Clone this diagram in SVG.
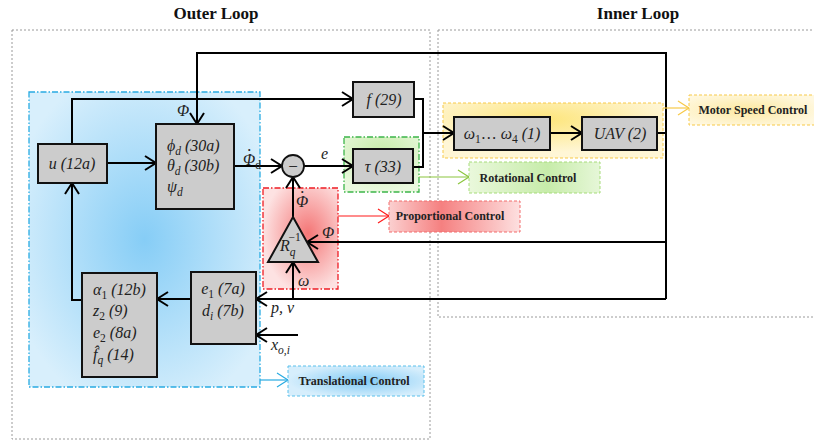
<svg xmlns="http://www.w3.org/2000/svg" width="814" height="443" viewBox="0 0 814 443">
<defs>
<radialGradient id="gBlue" cx="0.5" cy="0.5" r="0.6"><stop offset="0" stop-color="#86cdf6"/><stop offset="1" stop-color="#d8effc"/></radialGradient>
<radialGradient id="gRed" cx="0.6" cy="0.45" r="0.6"><stop offset="0" stop-color="#f47676"/><stop offset="1" stop-color="#fde2e2"/></radialGradient>
<radialGradient id="gGreen" cx="0.5" cy="0.3" r="0.7"><stop offset="0" stop-color="#c6eca8"/><stop offset="1" stop-color="#eaf8df"/></radialGradient>
<radialGradient id="gYellow" cx="0.45" cy="0.3" r="0.6"><stop offset="0" stop-color="#fde57a"/><stop offset="1" stop-color="#fff6d6"/></radialGradient>
<radialGradient id="lYellow" cx="0.45" cy="0.5" r="0.6"><stop offset="0" stop-color="#fde9a0"/><stop offset="1" stop-color="#fff8e0"/></radialGradient>
<linearGradient id="lGreen" x1="0" x2="1"><stop offset="0" stop-color="#eaf8dc"/><stop offset="0.6" stop-color="#c7ecaa"/><stop offset="1" stop-color="#e6f7d8"/></linearGradient>
<linearGradient id="lRed" x1="0" x2="1"><stop offset="0" stop-color="#fbd0d0"/><stop offset="0.4" stop-color="#f58080"/><stop offset="1" stop-color="#fde0e0"/></linearGradient>
<radialGradient id="lBlue" cx="0.55" cy="0.5" r="0.55"><stop offset="0" stop-color="#7fcaf5"/><stop offset="1" stop-color="#d6eefc"/></radialGradient>
<marker id="aK" markerUnits="userSpaceOnUse" markerWidth="14" markerHeight="16" refX="12" refY="8" orient="auto"><path d="M1,1 L12,8 L1,15" fill="none" stroke="#000" stroke-width="2"/></marker>
<marker id="aB" markerUnits="userSpaceOnUse" markerWidth="14" markerHeight="16" refX="12" refY="8" orient="auto"><path d="M1,1 L12,8 L1,15" fill="none" stroke="#29abe2" stroke-width="1.2"/></marker>
<marker id="aG" markerUnits="userSpaceOnUse" markerWidth="14" markerHeight="16" refX="12" refY="8" orient="auto"><path d="M1,1 L12,8 L1,15" fill="none" stroke="#8cc63f" stroke-width="1.2"/></marker>
<marker id="aR" markerUnits="userSpaceOnUse" markerWidth="14" markerHeight="16" refX="12" refY="8" orient="auto"><path d="M1,1 L12,8 L1,15" fill="none" stroke="#ff1a1a" stroke-width="1.2"/></marker>
<marker id="aY" markerUnits="userSpaceOnUse" markerWidth="14" markerHeight="16" refX="12" refY="8" orient="auto"><path d="M1,1 L12,8 L1,15" fill="none" stroke="#f7c948" stroke-width="1.2"/></marker>
</defs>
<style>
.loop{fill:none;stroke:#9a9a9a;stroke-width:1;stroke-dasharray:2 2}
.title{font-family:"Liberation Serif",serif;font-weight:bold;font-size:17px;fill:#111;text-anchor:middle}
.blk{fill:#cccccc;stroke:#111;stroke-width:2}
.m{font-family:"Liberation Serif","DejaVu Serif",serif;font-style:italic;font-size:16px;fill:#222}
.mc{text-anchor:middle}
.lbl{font-family:"Liberation Serif",serif;font-weight:bold;font-size:12px;fill:#222;text-anchor:middle}
.w{fill:none;stroke:#000;stroke-width:2}
.sub{font-size:11.5px}
.up{font-style:normal}
</style>
<rect width="814" height="443" fill="#fff"/>
<g id="outer-loop">
<rect class="loop" x="12" y="30" width="418" height="409"/>
<text class="title" x="216" y="19">Outer Loop</text>
</g>
<g id="inner-loop">
<rect class="loop" x="438" y="30" width="380" height="287"/>
<text class="title" x="638" y="19">Inner Loop</text>
</g>
<g id="translational-region">
<rect x="29" y="92" width="231" height="295" fill="url(#gBlue)" stroke="#29abe2" stroke-width="1.3" stroke-dasharray="6 2 1.5 2"/>
</g>
<g id="rotational-region">
<rect x="344" y="137" width="75" height="55" fill="url(#gGreen)" stroke="#3db54a" stroke-width="1.3" stroke-dasharray="6 2 1.5 2"/>
</g>
<g id="proportional-region">
<rect x="263" y="188" width="75" height="101" fill="url(#gRed)" stroke="#ee1c24" stroke-width="1.3" stroke-dasharray="6 2 1.5 2"/>
</g>
<g id="motor-region">
<rect x="443" y="103" width="220" height="55" fill="url(#gYellow)" stroke="#f7c948" stroke-width="1" stroke-dasharray="3 2"/>
</g>
<g id="connectors">
<path class="w" d="M666,299 V53 H197 V124" marker-end="url(#aK)"/>
<path class="w" d="M657,133 H666"/>
<path class="w" d="M666,242 H307" marker-end="url(#aK)"/>
<path class="w" d="M666,299 H256" marker-end="url(#aK)"/>
<path class="w" d="M293,299 V262" marker-end="url(#aK)"/>
<path class="w" d="M72,144 V99 H353" marker-end="url(#aK)"/>
<path class="w" d="M107,163 H156" marker-end="url(#aK)"/>
<path class="w" d="M234,166 H282" marker-end="url(#aK)"/>
<path class="w" d="M304,166 H353" marker-end="url(#aK)"/>
<path class="w" d="M293,217 V177" marker-end="url(#aK)"/>
<path class="w" d="M414,99 H423 V167 H413"/>
<path class="w" d="M423,133 H454" marker-end="url(#aK)"/>
<path class="w" d="M550,133 H582" marker-end="url(#aK)"/>
<path class="w" d="M191,299 H157" marker-end="url(#aK)"/>
<path class="w" d="M82,300 H72 V183" marker-end="url(#aK)"/>
<path class="w" d="M298,335 H256" marker-end="url(#aK)"/>
<path d="M663,108 H689" fill="none" stroke="#f7c948" stroke-width="1.2" marker-end="url(#aY)"/>
<path d="M419,177 H469" fill="none" stroke="#8cc63f" stroke-width="1.2" marker-end="url(#aG)"/>
<path d="M338,216 H389" fill="none" stroke="#ff1a1a" stroke-width="1.2" marker-end="url(#aR)"/>
<path d="M260,380 H288" fill="none" stroke="#29abe2" stroke-width="1.2" marker-end="url(#aB)"/>
</g>
<g id="signal-labels" class="m">
<text x="177" y="116">Φ</text>
<text x="243" y="165">Φ<tspan class="up" dx="-8" dy="-14">.</tspan><tspan class="sub up" dx="4" dy="18">d</tspan></text>
<text x="296" y="207">Φ<tspan class="up" dx="-8" dy="-14">.</tspan></text>
<text x="321" y="159">e</text>
<text x="322" y="238">Φ</text>
<text x="298" y="286">ω</text>
<text x="271" y="313">p, v</text>
<text x="271" y="350">x<tspan class="sub" dy="4">o,i</tspan></text>
</g>
<g id="node-u"><rect class="blk" x="38" y="144" width="69" height="39"/><text class="m mc" x="72" y="169">u (12a)</text></g>
<g id="node-attitude"><rect class="blk" x="156" y="124" width="78" height="85"/>
<text class="m" x="167" y="151">ϕ<tspan class="sub" dy="4">d</tspan><tspan dy="-4"> (30a)</tspan></text>
<text class="m" x="167" y="171">θ<tspan class="sub" dy="4">d</tspan><tspan dy="-4"> (30b)</tspan></text>
<text class="m" x="167" y="192">ψ<tspan class="sub" dy="4">d</tspan></text>
</g>
<g id="node-f"><rect class="blk" x="353" y="82" width="61" height="35"/><text class="m mc" x="384" y="105">f  (29)</text></g>
<g id="node-tau"><rect class="blk" x="353" y="149" width="60" height="34"/><text class="m mc" x="383" y="172">τ (33)</text></g>
<g id="node-sum"><circle cx="293" cy="166" r="11" fill="#cccccc" stroke="#111" stroke-width="1.8"/><text x="293" y="171.5" text-anchor="middle" style="font-family:'Liberation Serif',serif;font-size:17px">−</text></g>
<g id="node-rq"><polygon points="293,217 318,262 268,262" fill="#cccccc" stroke="#111" stroke-width="2"/>
<text class="m" x="280" y="251">R<tspan class="sub" dy="5">q</tspan><tspan class="sub up" dx="-7" dy="-15">−1</tspan></text></g>
<g id="node-motors"><rect class="blk" x="454" y="117" width="96" height="33"/><text class="m mc" x="502" y="139">ω<tspan class="sub up" dy="4">1</tspan><tspan dy="-4" class="up">… </tspan>ω<tspan class="sub up" dy="4">4</tspan><tspan dy="-4"> (1)</tspan></text></g>
<g id="node-uav"><rect class="blk" x="582" y="117" width="75" height="33"/><text class="m mc" x="620" y="139">UAV (2)</text></g>
<g id="node-e1"><rect class="blk" x="191" y="272" width="65" height="72"/>
<text class="m mc" x="223" y="294">e<tspan class="sub up" dy="4">1</tspan><tspan dy="-4"> (7a)</tspan></text>
<text class="m mc" x="223" y="316">d<tspan class="sub" dy="4">i</tspan><tspan dy="-4"> (7b)</tspan></text>
</g>
<g id="node-alpha"><rect class="blk" x="82" y="273" width="75" height="104"/>
<text class="m" x="93" y="295">α<tspan class="sub up" dy="4">1</tspan><tspan dy="-4"> (12b)</tspan></text>
<text class="m" x="93" y="316">z<tspan class="sub up" dy="4">2</tspan><tspan dy="-4"> (9)</tspan></text>
<text class="m" x="93" y="338">e<tspan class="sub up" dy="4">2</tspan><tspan dy="-4"> (8a)</tspan></text>
<text class="m" x="93" y="360">f̂<tspan class="sub" dy="4">q</tspan><tspan dy="-4"> (14)</tspan></text>
</g>
<g id="label-motor"><rect x="689" y="95" width="128" height="30" fill="url(#lYellow)" stroke="#f7c948" stroke-width="1" stroke-dasharray="3 2"/><text class="lbl" x="753" y="114">Motor Speed Control</text></g>
<g id="label-rotational"><rect x="469" y="162" width="131" height="31" fill="url(#lGreen)" stroke="#a6dc7a" stroke-width="1" stroke-dasharray="3 2"/><text class="lbl" x="528" y="182">Rotational Control</text></g>
<g id="label-proportional"><rect x="389" y="201" width="131" height="31" fill="url(#lRed)" stroke="#f26d6d" stroke-width="1" stroke-dasharray="3 2"/><text class="lbl" x="450" y="220">Proportional Control</text></g>
<g id="label-translational"><rect x="288" y="366" width="136" height="30" fill="url(#lBlue)" stroke="#5bc0eb" stroke-width="1" stroke-dasharray="3 2"/><text class="lbl" x="354" y="385">Translational Control</text></g>
</svg>
